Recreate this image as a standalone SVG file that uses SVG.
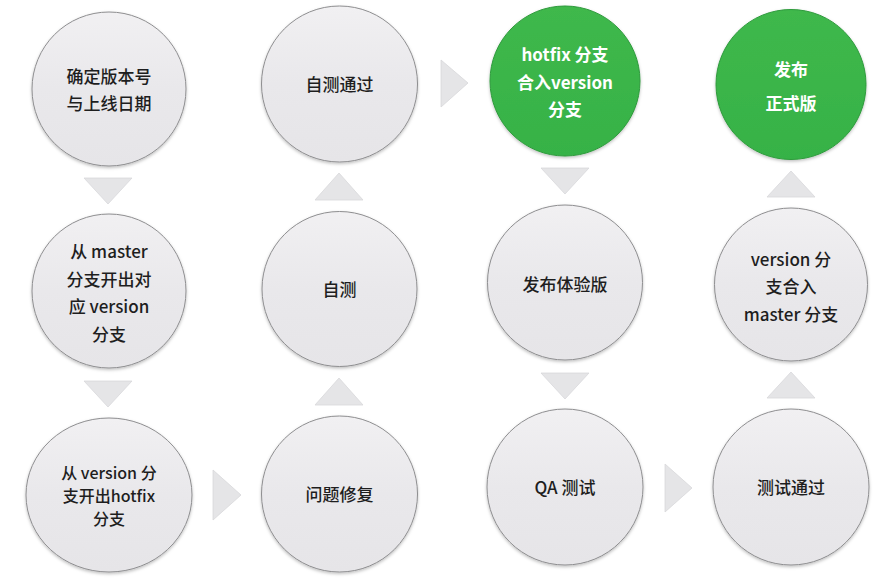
<svg xmlns="http://www.w3.org/2000/svg" width="896" height="584" viewBox="0 0 896 584">
<defs>
<linearGradient id="gray" x1="0" y1="0" x2="0" y2="1">
<stop offset="0" stop-color="#f1f0f2"/><stop offset="0.5" stop-color="#e9e8eb"/><stop offset="1" stop-color="#e6e5e8"/>
</linearGradient>
<linearGradient id="green" x1="0" y1="0" x2="0" y2="1">
<stop offset="0" stop-color="#3fb84c"/><stop offset="1" stop-color="#36b246"/>
</linearGradient>
<filter id="sh" x="-20%" y="-20%" width="140%" height="140%">
<feDropShadow dx="0" dy="1.5" stdDeviation="1.5" flood-color="#000" flood-opacity="0.25"/>
</filter>
<style>
.c{fill:url(#gray);stroke:#8e8e90;stroke-width:1;filter:url(#sh)}
.g{fill:url(#green);stroke:#2e9a3c;stroke-width:1;filter:url(#sh)}
.t{font-family:"Noto Sans CJK SC","Noto Sans",sans-serif;font-size:17px;font-weight:500;fill:#1e1e1e;text-anchor:middle;dominant-baseline:central}
.s{font-size:16px}
.w{fill:#ffffff;font-weight:700}
.a{fill:#e5e5e7;stroke:#d8d8da;stroke-width:0.8}
</style>
</defs>
<rect width="896" height="584" fill="#ffffff"/>
<g id="connectors">
<polygon class="a" points="84,178 132,178 108,204"/>
<polygon class="a" points="84,381 132,381 108,407"/>
<polygon class="a" points="213,470 213,520 241,495"/>
<polygon class="a" points="315,405 363,405 339,378"/>
<polygon class="a" points="315,200 363,200 339,173"/>
<polygon class="a" points="441,60 441,107 468,83"/>
<polygon class="a" points="541,168 589,168 565,194"/>
<polygon class="a" points="541,373 589,373 565,399"/>
<polygon class="a" points="665,464 665,512 692,488"/>
<polygon class="a" points="767,398 815,398 791,372"/>
<polygon class="a" points="767,197 815,197 791,171"/>
</g>
<g id="n1"><circle class="c" cx="109" cy="89" r="77"/>
<text class="t" x="109" y="75">确定版本号</text><text class="t" x="109" y="102">与上线日期</text></g>
<g id="n2"><circle class="c" cx="109" cy="291" r="77"/>
<text class="t" x="109" y="250">从 master</text><text class="t" x="109" y="278">分支开出对</text><text class="t" x="109" y="305">应 version</text><text class="t" x="109" y="333">分支</text></g>
<g id="n3"><ellipse class="c" cx="109" cy="495" rx="83" ry="77"/>
<text class="t s" x="109" y="472">从 version 分</text><text class="t s" x="109" y="495">支开出hotfix</text><text class="t s" x="109" y="518">分支</text></g>
<g id="n4"><circle class="c" cx="339.5" cy="494" r="78"/>
<text class="t" x="339.5" y="493">问题修复</text></g>
<g id="n5"><circle class="c" cx="339.5" cy="289" r="77.5"/>
<text class="t" x="339.5" y="288">自测</text></g>
<g id="n6"><circle class="c" cx="339.5" cy="84" r="78"/>
<text class="t" x="339.5" y="83">自测通过</text></g>
<g id="n7"><circle class="g" cx="565" cy="81" r="75"/>
<text class="t w" x="565" y="53">hotfix 分支</text><text class="t w" x="565" y="81">合入version</text><text class="t w" x="565" y="108">分支</text></g>
<g id="n8"><circle class="c" cx="565" cy="282.5" r="77.5"/>
<text class="t" x="565" y="283">发布体验版</text></g>
<g id="n9"><circle class="c" cx="565" cy="487" r="78"/>
<text class="t" x="565" y="486">QA 测试</text></g>
<g id="n10"><circle class="c" cx="791" cy="487" r="78"/>
<text class="t" x="791" y="486">测试通过</text></g>
<g id="n11"><circle class="c" cx="791" cy="284.5" r="76.5"/>
<text class="t" x="791" y="258">version 分</text><text class="t" x="791" y="285">支合入</text><text class="t" x="791" y="313">master 分支</text></g>
<g id="n12"><circle class="g" cx="791" cy="84.5" r="75"/>
<text class="t w" x="791" y="68">发布</text><text class="t w" x="791" y="102">正式版</text></g>
</svg>
